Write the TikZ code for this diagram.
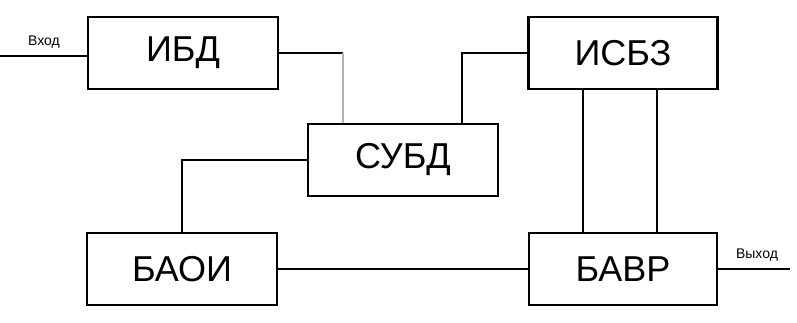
\documentclass[tikz,border=0pt]{standalone}
\usepackage{fontspec}
\setmainfont{Liberation Sans}
\begin{document}
\begin{tikzpicture}[x=1pt,y=-1pt,
  blk/.style={draw,line width=2.6pt,minimum width=190pt,minimum height=72pt,inner sep=0pt,font=\fontsize{36}{36}\selectfont},
  wire/.style={line width=1.8pt},
  lbl/.style={font=\fontsize{14}{14}\selectfont,inner sep=0pt}]
\useasboundingbox (0,0) rectangle (797,323);
\node[blk] (ibd) at (183,53) {ИБД};
\node[blk] (subd) at (403,160) {СУБД};
\node[blk,minimum width=189pt] (isbz) at (623,53) {ИСБЗ};
\node[blk] (baoi) at (182,269) {БАОИ};
\node[blk,minimum width=188pt] (bavr) at (623,269) {БАВР};
\coordinate (in) at (0,56);
\coordinate (out) at (790,269);
\draw[wire] (in) -- (ibd.west |- in);
\node[lbl] at (44,42) {Вход};
\draw[wire] (bavr.east) -- (out);
\node[lbl] at (757,255) {Выход};
\draw[wire] (ibd.east) -- (343,53) coordinate (c1);
\draw[wire,gray!60] (c1) -- (c1 |- subd.north);
\draw[wire] (subd.north -| 462,0) -- (462,53) -- (isbz.west);
\draw[wire] (subd.west) -- (182,160) -- (baoi.north);
\draw[wire] (baoi.east) -- (bavr.west);
\draw[wire] (isbz.south -| 583,0) -- (bavr.north -| 583,0);
\draw[wire] (isbz.south -| 657,0) -- (bavr.north -| 657,0);
\end{tikzpicture}
\end{document}
